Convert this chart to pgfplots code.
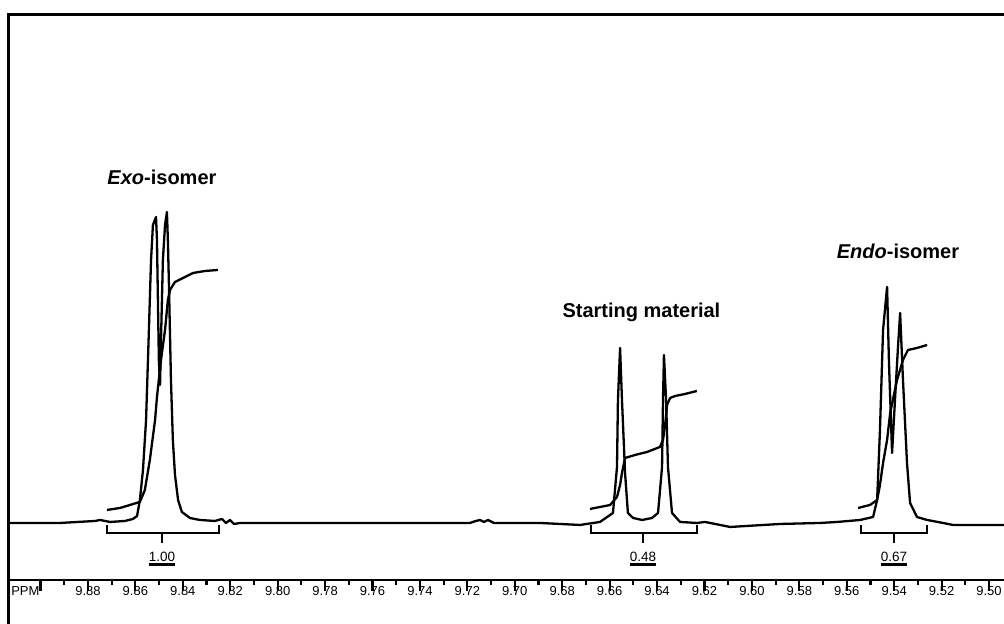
\documentclass[border=0pt]{standalone}
\usepackage{pgfplots}
\pgfplotsset{compat=1.18}
\usepackage{fontspec}
\setmainfont{Liberation Sans}
\newcommand\ulbox[1]{\setbox0\hbox{#1}\vtop{\hbox{#1}\kern1.0pt\hrule height 2.6pt width \wd0}}
\begin{document}
\begin{tikzpicture}
\begin{axis}[
  scale only axis, width=996pt, height=565pt,
  xmin=9.4937, xmax=9.9137, ymin=-57, ymax=508,
  x dir=reverse, enlargelimits=false, clip=false,
  axis x line*=bottom, axis y line=none,
  x axis line style={line width=2.8pt, black},
  xtick={9.50,9.52,9.54,9.56,9.58,9.60,9.62,9.64,9.66,9.68,9.70,9.72,9.74,9.76,9.78,9.80,9.82,9.84,9.86,9.88,9.90},
  xticklabels={9.50,9.52,9.54,9.56,9.58,9.60,9.62,9.64,9.66,9.68,9.70,9.72,9.74,9.76,9.78,9.80,9.82,9.84,9.86,9.88,{}},
  minor x tick num=1,
  xtick align=outside,
  major tick length=11pt, minor tick length=5pt,
  tick style={line width=2.2pt, black},
  xticklabel style={anchor=center, font=\fontsize{13}{14}\selectfont},
  ytick=\empty,
]
% spectrum
\addplot[black, line width=2.3pt, line join=round] coordinates {
(9.9137,0) (9.8918,0) (9.8770,2) (9.8749,3) (9.8707,1) (9.8644,2) (9.8610,4)
(9.8593,7) (9.8581,23) (9.8568,53) (9.8555,103) (9.8543,193) (9.8534,263)
(9.8526,298) (9.8513,306) (9.8509,283) (9.8505,223) (9.8501,163) (9.8496,138)
(9.8492,183) (9.8484,263) (9.8475,298) (9.8467,311) (9.8463,283) (9.8458,233)
(9.8450,143) (9.8442,83) (9.8433,48) (9.8420,23) (9.8404,11) (9.8370,5)
(9.8328,3) (9.8264,2) (9.8235,4) (9.8218,0) (9.8201,3) (9.8184,-1) (9.8159,0)
(9.7906,0) (9.7484,0) (9.7189,0) (9.7164,2) (9.7147,3) (9.7130,1) (9.7113,3)
(9.7088,0) (9.6894,0) (9.6725,-2) (9.6641,1) (9.6586,10) (9.6569,56)
(9.6565,123) (9.6556,175) (9.6548,123) (9.6535,50) (9.6523,10) (9.6501,5)
(9.6463,3) (9.6421,5) (9.6396,10) (9.6379,56) (9.6375,123) (9.6371,168)
(9.6362,123) (9.6354,56) (9.6337,10) (9.6303,1) (9.6232,0) (9.6198,1)
(9.6092,-4) (9.5881,-1) (9.5713,0) (9.5641,1) (9.5544,3) (9.5489,6)
(9.5472,23) (9.5460,93) (9.5447,193) (9.5430,236) (9.5422,160) (9.5409,70)
(9.5396,126) (9.5384,176) (9.5375,210) (9.5363,143) (9.5346,60) (9.5333,20)
(9.5304,6) (9.5261,3) (9.5194,0) (9.5152,-2) (9.4937,-2)
};
% integral curves
\addplot[black, line width=2.3pt, line join=round] coordinates {
(9.8720,13) (9.8665,15) (9.8581,21) (9.8560,33) (9.8539,63) (9.8517,103)
(9.8509,126) (9.8492,163) (9.8475,193) (9.8463,223) (9.8454,233) (9.8433,241)
(9.8399,245) (9.8357,250) (9.8307,252) (9.8252,253)
};
\addplot[black, line width=2.3pt, line join=round] coordinates {
(9.6683,14) (9.6598,18) (9.6569,26) (9.6556,38) (9.6548,50) (9.6535,65)
(9.6493,68) (9.6442,71) (9.6388,76) (9.6375,83) (9.6366,98) (9.6358,118)
(9.6345,125) (9.6324,127) (9.6282,129) (9.6232,132)
};
\addplot[black, line width=2.3pt, line join=round] coordinates {
(9.5552,15) (9.5502,18) (9.5472,23) (9.5460,38) (9.5447,60) (9.5430,83)
(9.5417,110) (9.5388,143) (9.5363,163) (9.5342,173) (9.5304,175) (9.5261,178)
};
% integral brackets
\addplot[black, line width=2pt] coordinates {(9.8720,-2) (9.8720,-10) (9.8248,-10) (9.8248,-2)};
\addplot[black, line width=2pt] coordinates {(9.8488,-10) (9.8488,-20)};
\addplot[black, line width=2pt] coordinates {(9.6679,-2) (9.6679,-10) (9.6232,-10) (9.6232,-2)};
\addplot[black, line width=2pt] coordinates {(9.6459,-10) (9.6459,-20)};
\addplot[black, line width=2pt] coordinates {(9.5540,-2) (9.5540,-10) (9.5261,-10) (9.5261,-2)};
\addplot[black, line width=2pt] coordinates {(9.5401,-10) (9.5401,-20)};
% frame (top and left)
\draw[line width=3pt, line cap=rect] (axis cs:9.9137,-101) -- (axis cs:9.9137,508) -- (axis cs:9.4937,508);
% labels
\node[anchor=base, font=\fontsize{13.5}{14}\selectfont] at (axis cs:9.8488,-39) {\ulbox{1.00}};
\node[anchor=base, font=\fontsize{13.5}{14}\selectfont] at (axis cs:9.6459,-39) {\ulbox{0.48}};
\node[anchor=base, font=\fontsize{13.5}{14}\selectfont] at (axis cs:9.5401,-39) {\ulbox{0.67}};
\node[anchor=base, font=\fontsize{20}{21}\selectfont\bfseries] at (axis cs:9.8488,338) {\textit{Exo}-isomer};
\node[anchor=base, font=\fontsize{20}{21}\selectfont\bfseries] at (axis cs:9.6466,205) {Starting material};
\node[anchor=base, font=\fontsize{20}{21}\selectfont\bfseries] at (axis cs:9.5384,264) {\textit{Endo}-isomer};
\node[anchor=center, font=\fontsize{13}{14}\selectfont] at (axis cs:9.9064,-68) {PPM};
\coordinate (bbsw) at (axis cs:9.9171,-101);
\coordinate (bbne) at (axis cs:9.4937,523);
\end{axis}
\pgfresetboundingbox
\path (bbsw) rectangle (bbne);
\end{tikzpicture}
\end{document}
